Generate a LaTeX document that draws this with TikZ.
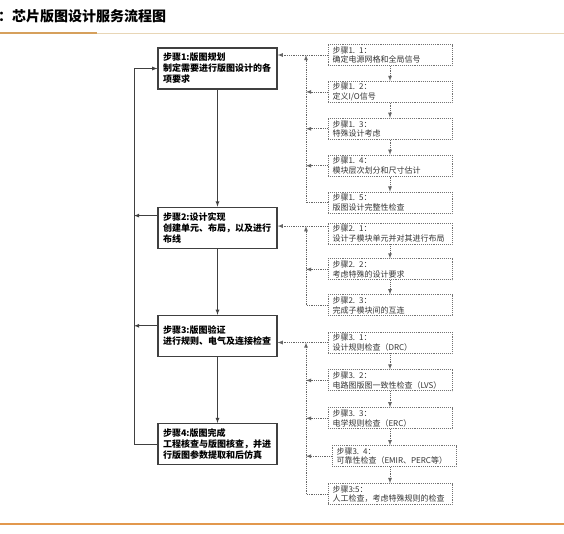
\documentclass[tikz,border=0pt]{standalone}
\usepackage{fontspec}
\setmainfont{Noto Sans CJK SC}
\usetikzlibrary{shapes.geometric, arrows, positioning, calc}
\usepackage{xcolor}
\definecolor{rulegold}{RGB}{214, 160, 92}
\definecolor{rulepale}{RGB}{232, 214, 182}
\definecolor{ruleorange}{RGB}{226, 152, 78}
\tikzstyle{stage} = [rectangle, draw=black!75, line width=1.2pt, fill=white, minimum height=41pt, text width=109pt, align=left, inner sep=5pt, font=\bfseries\fontsize{9}{11}\selectfont]
\tikzstyle{task} = [rectangle, draw=black!55, densely dotted, line width=0.9pt, minimum height=21pt, text width=115pt, align=left, inner xsep=4.5pt, inner ysep=1.5pt, text=black!80, font=\fontsize{8}{9.5}\selectfont]
\tikzstyle{arrow} = [thick, draw=black!75, ->, >=latex]
\tikzstyle{wire} = [thick, draw=black!75]
\tikzstyle{link} = [thick, densely dotted, draw=black!60, ->, >=latex]

\begin{document}
\begin{tikzpicture}[x=1pt, y=-1pt]
    \useasboundingbox (0,0) rectangle (564,533);

    % title and rules
    \node (title) [anchor=west, inner sep=0pt, font=\bfseries\fontsize{14}{14}\selectfont] at (-2,16) {：芯片版图设计服务流程图};
    \draw [rulepale, line width=1pt] (97,33) -- (564,33);
    \draw [rulegold, line width=1.6pt] (0,33) -- (97,33);
    \draw [ruleorange, line width=1.6pt] (0,524) -- (564,524);

    % main stages
    \node (m1) [stage] at (217.5,68.5) {步骤1:版图规划\\制定需要进行版图设计的各\\项要求};
    \node (m2) [stage, below=117pt of m1] {步骤2:设计实现\\创建单元、布局，以及进行\\布线};
    \node (m3) [stage, below=66pt of m2] {步骤3:版图验证\\进行规则、电气及连接检查};
    \node (m4) [stage, below=66pt of m3] {步骤4:版图完成\\工程核查与版图核查，并进\\行版图参数提取和后仿真};

    % sub steps of stage 1
    \node (s11) [task] at (390,55) {步骤1. 1：\\确定电源网格和全局信号};
    \node (s12) [task, below=15pt of s11] {步骤1. 2：\\定义I/O信号};
    \node (s13) [task, below=15pt of s12] {步骤1. 3：\\特殊设计考虑};
    \node (s14) [task, below=15pt of s13] {步骤1. 4：\\模块层次划分和尺寸估计};
    \node (s15) [task, below=15pt of s14] {步骤1. 5：\\版图设计完整性检查};

    % sub steps of stage 2
    \node (s21) [task] at (390,233.5) {步骤2. 1：\\设计子模块单元并对其进行布局};
    \node (s22) [task, below=14pt of s21] {步骤2. 2：\\考虑特殊的设计要求};
    \node (s23) [task, below=14pt of s22] {步骤2. 3：\\完成子模块间的互连};

    % sub steps of stage 3
    \node (s31) [task] at (390,342.5) {步骤3. 1：\\设计规则检查（DRC）};
    \node (s32) [task, below=16pt of s31] {步骤3. 2：\\电路图版图一致性检查（LVS）};
    \node (s33) [task, below=16pt of s32] {步骤3. 3：\\电学规则检查（ERC）};
    \node (s34) [task, below=16pt of s33, xshift=4pt] {步骤3. 4：\\可靠性检查（EMIR、PERC等）};
    \node (s35) [task, below=16pt of s34, xshift=-4pt] {步骤3:5：\\人工检查，考虑特殊规则的检查};

    % main flow
    \draw [arrow] (m1) -- (m2);
    \draw [arrow] (m2) -- (m3);
    \draw [arrow] (m3) -- (m4);

    % feedback loop
    \coordinate (fb) at (134,0);
    \coordinate (m2out) at ([yshift=-9pt]m2.north west);
    \coordinate (m3out) at ([yshift=-11pt]m3.north west);
    \draw [arrow] (m4.west) -- (m4.west -| fb) |- (m1.west);
    \draw [arrow] (m2out) -- (m2out -| fb);
    \draw [arrow] (m3out) -- (m3out -| fb);

    % sub step links
    \coordinate (v) at (306,0);
    \coordinate (s21out) at ([yshift=-3.5pt]s21.north west);
    \draw [link] (s11.west) -- (s11.west -| m1.east);
    \draw [link] (s21out) -- (s21out -| m2.east);
    \draw [link] (s31.west) -- (s31.west -| m3.east);
    \foreach \n in {s12, s13, s14, s22, s32, s33, s34}
        \draw [link] (\n.west) -- (\n.west -| v);
    \draw [link] (s15.west) -| (v |- s11.west);
    \draw [link] (s23.west) -| (v |- s21out);
    \draw [link] (s35.west) -| (v |- s31.west);
    \foreach \a/\b in {s11/s12, s12/s13, s13/s14, s14/s15, s21/s22, s22/s23, s31/s32, s32/s33, s33/s34, s34/s35}
        \draw [link] (\a.south -| s11) -- (\b.north -| s11);
\end{tikzpicture}
\end{document}
